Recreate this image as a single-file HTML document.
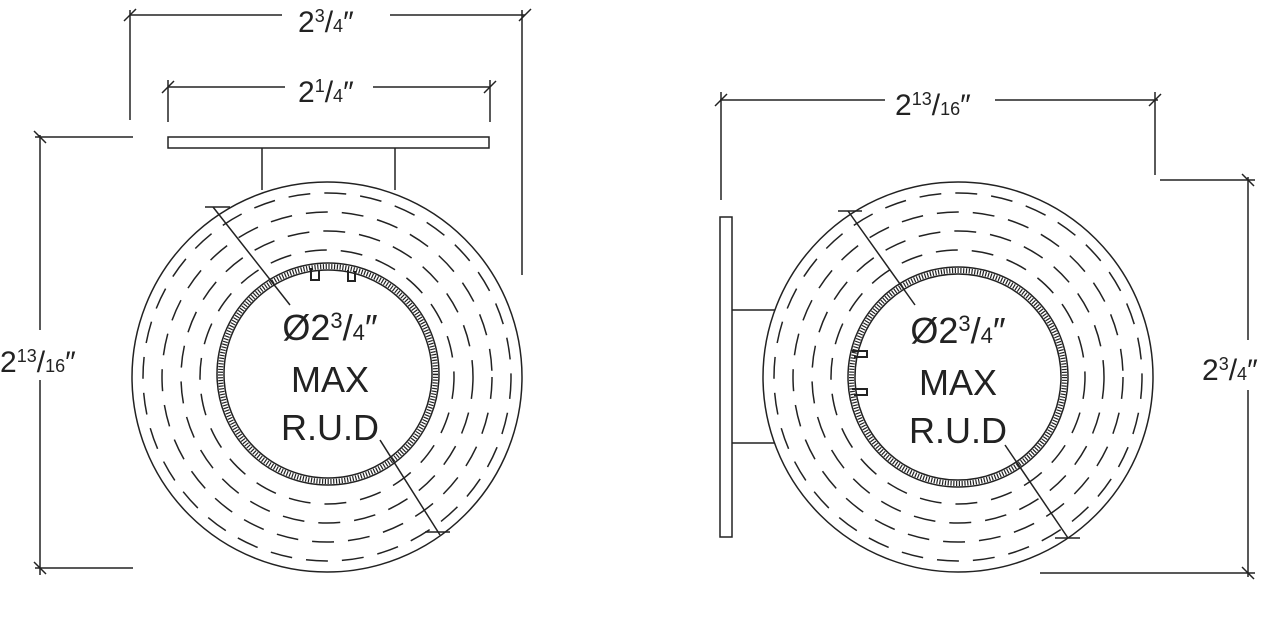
<!DOCTYPE html>
<html><head><style>
html,body{margin:0;padding:0;background:#fff}
svg{display:block}
text{font-family:"Liberation Sans",sans-serif;fill:#222;font-weight:300}
</style></head><body>
<svg width="1278" height="643" viewBox="0 0 1278 643" xmlns="http://www.w3.org/2000/svg">
<g stroke="#222" fill="none" stroke-width="1.5">
<!-- LEFT -->
<rect x="168" y="137" width="321" height="11"/>
<line x1="262" y1="148" x2="262" y2="190"/>
<line x1="395" y1="148" x2="395" y2="190"/>
<circle cx="327" cy="377" r="195"/>
<circle cx="327" cy="377" r="184" stroke-dasharray="22 14"/>
<circle cx="327" cy="377" r="165" stroke-dasharray="22 14"/>
<circle cx="327" cy="377" r="146" stroke-dasharray="22 14"/>
<circle cx="327" cy="377" r="127" stroke-dasharray="22 14"/>
<circle cx="328" cy="374" r="111"/>
<circle cx="328" cy="374" r="104"/>
<circle cx="328" cy="374" r="107.5" stroke-width="5" stroke-dasharray="1.2 1.6"/>
<path d="M311 268 v12 h8 v-10 M348 270 v11 h7 v-10" stroke-width="2"/>
<line x1="213" y1="207" x2="290" y2="305"/>
<line x1="380" y1="440" x2="440" y2="535"/>
<line x1="205" y1="207" x2="230" y2="207"/>
<line x1="425" y1="532" x2="450" y2="532"/>
<!-- left dims -->
<line x1="130" y1="15" x2="525" y2="15"/>
<line x1="130" y1="10" x2="130" y2="120"/>
<line x1="522" y1="10" x2="522" y2="275"/>
<line x1="168" y1="87" x2="490" y2="87"/>
<line x1="168" y1="80" x2="168" y2="122"/>
<line x1="490" y1="80" x2="490" y2="122"/>
<line x1="40" y1="135" x2="40" y2="575"/>
<line x1="35" y1="137" x2="133" y2="137"/>
<line x1="35" y1="568" x2="133" y2="568"/>
<g stroke-width="1.5">
<line x1="124" y1="21" x2="136" y2="9"/><line x1="519" y1="21" x2="531" y2="9"/>
<line x1="162" y1="93" x2="174" y2="81"/><line x1="484" y1="93" x2="496" y2="81"/>
<line x1="34" y1="131" x2="46" y2="143"/><line x1="34" y1="562" x2="46" y2="574"/>
</g>
<!-- RIGHT -->
<rect x="720" y="217" width="12" height="320"/>
<line x1="732" y1="310" x2="775" y2="310"/>
<line x1="732" y1="443" x2="775" y2="443"/>
<circle cx="958" cy="377" r="195"/>
<circle cx="958" cy="377" r="184" stroke-dasharray="22 14"/>
<circle cx="958" cy="377" r="165" stroke-dasharray="22 14"/>
<circle cx="958" cy="377" r="146" stroke-dasharray="22 14"/>
<circle cx="958" cy="377" r="127" stroke-dasharray="22 14"/>
<circle cx="958" cy="377" r="110"/>
<circle cx="958" cy="377" r="103"/>
<circle cx="958" cy="377" r="106.5" stroke-width="5" stroke-dasharray="1.2 1.6"/>
<path d="M852 351 h15 v6 h-13 M852 389 h15 v6 h-13" stroke-width="2"/>
<line x1="848" y1="211" x2="915" y2="305"/>
<line x1="1005" y1="445" x2="1068" y2="538"/>
<line x1="838" y1="211" x2="862" y2="211"/>
<line x1="1055" y1="538" x2="1080" y2="538"/>
<line x1="720" y1="100" x2="1158" y2="100"/>
<line x1="721" y1="92" x2="721" y2="200"/>
<line x1="1155" y1="92" x2="1155" y2="175"/>
<line x1="1248" y1="177" x2="1248" y2="577"/>
<line x1="1160" y1="180" x2="1255" y2="180"/>
<line x1="1040" y1="573" x2="1255" y2="573"/>
<line x1="715" y1="106" x2="727" y2="94"/><line x1="1149" y1="106" x2="1161" y2="94"/>
<line x1="1242" y1="174" x2="1254" y2="186"/><line x1="1242" y1="567" x2="1254" y2="579"/>
</g>
<!-- label backgrounds -->
<rect x="282" y="2" width="108" height="28" fill="#fff"/>
<rect x="285" y="73" width="88" height="28" fill="#fff"/>
<rect x="0" y="330" width="104" height="50" fill="#fff"/>
<rect x="885" y="86" width="110" height="30" fill="#fff"/>
<rect x="1200" y="340" width="78" height="50" fill="#fff"/>
<g font-size="30">
<text x="298" y="32">2<tspan font-size="18" dy="-10">3</tspan><tspan dy="10">/</tspan><tspan font-size="18">4</tspan>″</text>
<text x="298" y="102">2<tspan font-size="18" dy="-10">1</tspan><tspan dy="10">/</tspan><tspan font-size="18">4</tspan>″</text>
<text x="0" y="372">2<tspan font-size="18" dy="-10">13</tspan><tspan dy="10">/</tspan><tspan font-size="18">16</tspan>″</text>
<text x="895" y="115">2<tspan font-size="18" dy="-10">13</tspan><tspan dy="10">/</tspan><tspan font-size="18">16</tspan>″</text>
<text x="1202" y="380">2<tspan font-size="18" dy="-10">3</tspan><tspan dy="10">/</tspan><tspan font-size="18">4</tspan>″</text>
</g>
<g font-size="36" text-anchor="middle">
<text x="330" y="340">Ø2<tspan font-size="22" dy="-12">3</tspan><tspan dy="12">/</tspan><tspan font-size="22">4</tspan>″</text>
<text x="330" y="392">MAX</text>
<text x="330" y="440">R.U.D</text>
<text x="958" y="343">Ø2<tspan font-size="22" dy="-12">3</tspan><tspan dy="12">/</tspan><tspan font-size="22">4</tspan>″</text>
<text x="958" y="395">MAX</text>
<text x="958" y="443">R.U.D</text>
</g>
</svg>
</body></html>
